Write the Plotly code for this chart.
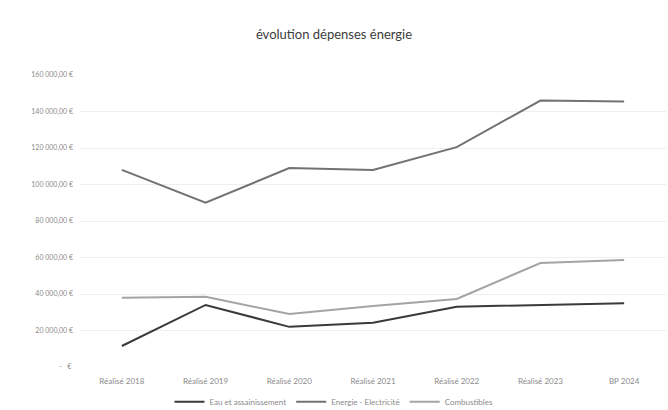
import plotly.graph_objects as go

# Yearly energy spending (EUR)
categories = ["Réalisé 2018", "Réalisé 2019", "Réalisé 2020", "Réalisé 2021",
              "Réalisé 2022", "Réalisé 2023", "BP 2024"]
eau_assainissement = [11500, 34000, 22000, 24300, 33000, 34000, 35000]
energie_electricite = [108000, 90000, 109000, 108000, 120500, 146000, 145500]
combustibles = [38000, 38500, 29000, 33400, 37300, 57000, 58600]

series_names = ["Eau et assainissement", "Energie - Electricité", "Combustibles"]
series_values = [eau_assainissement, energie_electricite, combustibles]
series_colors = ["#3a3a3a", "#727272", "#a4a4a4"]

y_tick_values = [0, 20000, 40000, 60000, 80000, 100000, 120000, 140000, 160000]


def euro_label(v):
    if v == 0:
        return " -   € "
    return f"{v:,.2f}".replace(",", " ").replace(".", ",") + " €"


y_tick_text = [euro_label(v) for v in y_tick_values]

fig = go.Figure()
for name, vals, color in zip(series_names, series_values, series_colors):
    fig.add_trace(go.Scatter(
        x=categories, y=vals, name=name, mode="lines",
        line=dict(color=color, width=2),
    ))

font_family = "Lato, 'Open Sans', sans-serif"

fig.update_layout(
    width=668, height=410,
    margin=dict(l=80, r=2, t=75, b=43),
    paper_bgcolor="white", plot_bgcolor="white",
    title=dict(text="évolution dépenses énergie", x=0.5, xanchor="center",
               y=0.915, yanchor="middle",
               font=dict(family=font_family, size=13, color="#3c3c3c")),
    showlegend=True,
    legend=dict(orientation="h", x=0.5, xanchor="center", xref="container",
                y=0.02, yanchor="middle", yref="container",
                font=dict(family=font_family, size=8, color="#8a8a8a"),
                itemwidth=30, tracegroupgap=0),
    xaxis=dict(
        type="category", range=[-0.5, 6.5], showgrid=False, zeroline=False,
        showline=False, ticks="", automargin=False, ticklabelstandoff=8,
        tickfont=dict(family=font_family, size=8, color="#8a8a8a"),
    ),
    yaxis=dict(
        range=[0, 160000], tickvals=y_tick_values, ticktext=y_tick_text,
        showgrid=True, gridcolor="#efefef", gridwidth=1, zeroline=False,
        showline=False, ticks="", ticklabelstandoff=6, automargin=False,
        tickfont=dict(family=font_family, size=7, color="#8a8a8a"),
    ),
)

fig.write_html("out.html")
